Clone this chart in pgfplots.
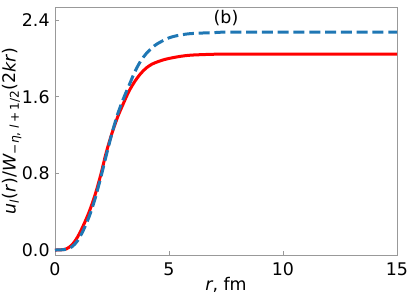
\documentclass[border=0pt]{standalone}
\usepackage{fontspec}
\setmainfont{DejaVu Sans}
\usepackage{pgfplots}
\pgfplotsset{compat=1.18}
\definecolor{tabblue}{HTML}{1F77B4}
\begin{document}
\fontsize{8.7}{10}\selectfont
\begin{tikzpicture}
\useasboundingbox (0,0) rectangle (203.5pt,148pt);
\begin{axis}[
  at={(27.5pt,20.5pt)}, anchor=south west,
  scale only axis,
  width=171pt, height=124pt,
  xmin=0, xmax=15, ymin=-0.052, ymax=2.537,
  xtick={0,5,10,15},
  ytick={0,0.8,1.6,2.4},
  tick pos=left,
  tick align=inside,
  major tick length=2pt,
  axis line style={gray!80},
  every tick/.style={gray!80, line width=0.4pt},
  /pgf/number format/assume math mode=true,
  tick label style={font=\fontsize{8.7}{10}\selectfont, text=black, inner sep=0pt},
  xticklabel style={anchor=north, yshift=-3.5pt},
  yticklabel style={anchor=east, xshift=-2.5pt, /pgf/number format/fixed, /pgf/number format/fixed zerofill, /pgf/number format/precision=1},
  label style={font=\fontsize{8.7}{10}\selectfont, inner sep=0pt},
  xlabel={\textit{r}, fm},
  ylabel={\textit{u}\textsubscript{\textit{l}}(\textit{r})/\textit{W}\textsubscript{−\textit{η}, \textit{l}\,+\,1/2}(2\textit{kr})},
  x label style={at={(axis description cs:0.5,-0.145)}, anchor=base},
  y label style={at={(axis description cs:-0.126,0.5)}, anchor=center},
]
\addplot[red, line width=1.5pt, smooth] coordinates {
(0,0.0) (0.25,0.002) (0.5,0.012) (0.75,0.055) (1.0,0.14) (1.25,0.26) (1.5,0.40) (1.75,0.57) (2.0,0.78) (2.25,1.02) (2.5,1.22) (2.75,1.39) (3.0,1.53) (3.25,1.66) (3.5,1.76) (3.75,1.84) (4.0,1.90) (4.25,1.94) (4.5,1.965) (4.75,1.985) (5.0,2.0) (5.5,2.022) (6.0,2.035) (7,2.044) (8,2.046) (15,2.046)
};
\addplot[tabblue, line width=1.5pt, dash pattern=on 5.5pt off 2.4pt, smooth] coordinates {
(0,0.0) (0.25,0.002) (0.5,0.008) (0.75,0.035) (1.0,0.10) (1.25,0.21) (1.5,0.35) (1.75,0.53) (2.0,0.75) (2.25,0.99) (2.5,1.22) (2.75,1.42) (3.0,1.58) (3.25,1.72) (3.5,1.86) (3.75,1.97) (4.0,2.05) (4.25,2.11) (4.5,2.155) (5.0,2.215) (5.5,2.245) (6.0,2.26) (7,2.27) (8,2.275) (15,2.276)
};
\node[font=\fontsize{8.7}{10}\selectfont] at (axis description cs:0.5,0.955) {(b)};
\end{axis}
\end{tikzpicture}
\end{document}
